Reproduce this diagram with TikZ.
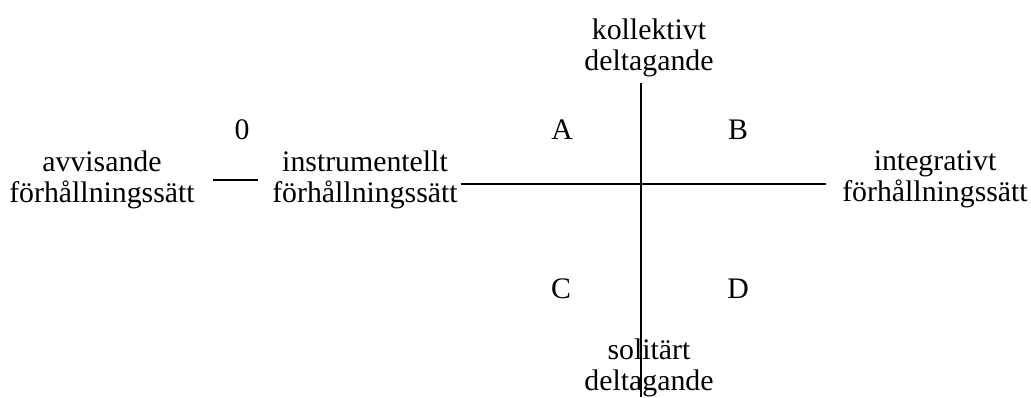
\documentclass[tikz,border=0pt]{standalone}
\usepackage{fontspec}
\setmainfont{Liberation Serif}
\usetikzlibrary{positioning}

\begin{document}
\begin{tikzpicture}[
            x=0.5pt, y=-0.5pt,
            lbl/.style={font=\fontsize{14.9}{15.5}\selectfont, align=center, inner sep=0pt},
            axis/.style={line width=.9pt, draw=black},
        ]
            \useasboundingbox (0,0) rectangle (1031,397);

            % the attitude labels along the horizontal axis
            \node[lbl] (avvis) at (102,180) {avvisande\\förhållningssätt};
            \node[lbl] (instr) at (365,180) {instrumentellt\\förhållningssätt};
            \node[lbl] (integ) at (935,179) {integrativt\\förhållningssätt};
            \node[lbl] (noll) at (242,130) {0};

            % participation labels on the vertical axis
            \node[lbl] (koll) at (649,48) {kollektivt\\deltagande};
            \node[lbl] (solit) at (649,368) {solitärt\\deltagande};

            % the four quadrants
            \node[lbl] (qa) at (562,130) {A};
            \node[lbl] (qb) at (738,130) {B};
            \node[lbl] (qc) at (561,289) {C};
            \node[lbl] (qd) at (738,289) {D};

            % axis end points
            \coordinate (nollv) at (213,180);
            \coordinate (nollh) at (258,180);
            \coordinate (west) at (461,184);
            \coordinate (east) at (826,184);
            \coordinate (north) at (641,83);
            \coordinate (south) at (641,397);

            \draw[axis] (nollv) -- (nollh);
            \draw[axis] (west) -- (east);
            \draw[axis] (north) -- (south);
        \end{tikzpicture}
\end{document}
